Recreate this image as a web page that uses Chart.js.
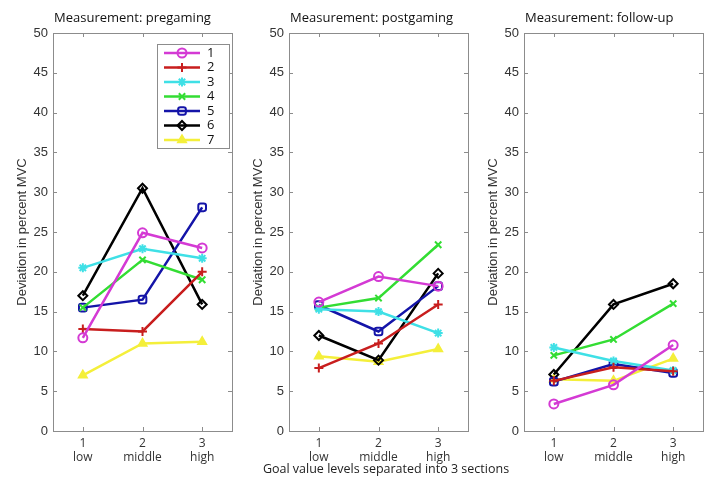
<!DOCTYPE html>
<html>
<head>
<meta charset="utf-8">
<script src="https://cdn.jsdelivr.net/npm/chart.js@4/dist/chart.umd.min.js"></script>
<style>
  html, body { margin: 0; padding: 0; background: #fff; }
  #wrap { position: relative; width: 711px; height: 479px; overflow: hidden; }
  .pane { position: absolute; top: 0; width: 240px; height: 479px; }
  #xtitle { position: absolute; left: 0; width: 772px; top: 460px; text-align: center; line-height: 17px;
            font: 12.5px "Open Sans", "Liberation Sans", sans-serif; color: #222; }
</style>
</head>
<body>
<div id="wrap">
  <div class="pane" style="left:0px"><canvas id="c1" width="240" height="479"></canvas></div>
  <div class="pane" style="left:236px"><canvas id="c2" width="240" height="479"></canvas></div>
  <div class="pane" style="left:471px"><canvas id="c3" width="240" height="479"></canvas></div>
  <div id="xtitle">Goal value levels separated into 3 sections</div>
</div>
<script>
// ---- data ----
const categories = [['1', 'low'], ['2', 'middle'], ['3', 'high']];
const seriesLabels = ['1', '2', '3', '4', '5', '6', '7'];
const panelTitles = ['Measurement: pregaming', 'Measurement: postgaming', 'Measurement: follow-up'];
const yTickValues = [0, 5, 10, 15, 20, 25, 30, 35, 40, 45, 50];
// values per series (1..7), each [low, middle, high]
const pregaming = [
  [11.7, 24.9, 23.0],
  [12.8, 12.5, 20.0],
  [20.5, 22.9, 21.7],
  [15.5, 21.5, 19.0],
  [15.5, 16.5, 28.1],
  [17.0, 30.5, 15.9],
  [7.0, 11.0, 11.2]
];
const postgaming = [
  [16.2, 19.4, 18.2],
  [7.9, 11.0, 15.9],
  [15.3, 15.0, 12.3],
  [15.5, 16.7, 23.4],
  [15.8, 12.5, 18.2],
  [12.0, 8.9, 19.8],
  [9.4, 8.7, 10.3]
];
const followup = [
  [3.4, 5.8, 10.8],
  [6.3, 8.0, 7.5],
  [10.5, 8.8, 7.6],
  [9.5, 11.5, 16.0],
  [6.2, 8.4, 7.3],
  [7.1, 15.9, 18.5],
  [6.5, 6.3, 9.1]
];

// ---- styles ----
const seriesColors = ['#d43ad4', '#c81e1e', '#3fe0e6', '#33dd33', '#1414a8', '#000000', '#f4ef3a'];
const pointStyles = ['circle', 'cross', 'star', 'crossRot', 'rectRounded', 'rectRot', 'triangle'];
const pointFill = [false, false, true, false, false, false, true];

const tickFont = { family: '"Liberation Sans", Arial, sans-serif', size: 13 };
const textColor = '#333';

function makeDatasets(values) {
  return values.map((vals, i) => ({
    label: seriesLabels[i],
    data: vals,
    borderColor: seriesColors[i],
    backgroundColor: pointFill[i] ? seriesColors[i] : 'rgba(0,0,0,0)',
    pointBackgroundColor: pointFill[i] ? seriesColors[i] : 'rgba(0,0,0,0)',
    pointBorderColor: seriesColors[i],
    pointStyle: pointStyles[i],
    pointRadius: 4.5,
    pointBorderWidth: 2,
    borderWidth: 2.5,
    tension: 0
  }));
}

const frame = {
  id: 'frame',
  afterDraw(chart, args, opts) {
    const ctx = chart.ctx, a = chart.chartArea;
    const xs = chart.scales.x, ys = chart.scales.y;
    ctx.save();
    ctx.strokeStyle = '#8c8c8c';
    ctx.lineWidth = 1;
    ctx.strokeRect(Math.round(a.left) + 0.5, Math.round(a.top) + 0.5,
                   Math.round(a.right - a.left), Math.round(a.bottom - a.top));
    ctx.beginPath();
    const tl = 4;
    yTickValues.forEach(v => {
      const y = Math.round(ys.getPixelForValue(v)) + 0.5;
      ctx.moveTo(a.left, y); ctx.lineTo(a.left + tl, y);
      ctx.moveTo(a.right, y); ctx.lineTo(a.right - tl, y);
    });
    for (let i = 0; i < categories.length; i++) {
      const x = Math.round(xs.getPixelForTick(i)) + 0.5;
      ctx.moveTo(x, a.bottom); ctx.lineTo(x, a.bottom - tl);
      ctx.moveTo(x, a.top); ctx.lineTo(x, a.top + tl);
    }
    ctx.stroke();
    // panel title
    ctx.fillStyle = '#111';
    ctx.font = '13px "Open Sans", "Liberation Sans", sans-serif';
    ctx.textAlign = 'left';
    ctx.textBaseline = 'middle';
    ctx.fillText(opts.title, a.left + 1, 18);
    // legend
    if (opts.legend) {
      const bx = a.left + 104, by = 44, bw = 72, bh = 104;
      ctx.fillStyle = '#fff';
      ctx.fillRect(bx, by, bw, bh);
      ctx.strokeStyle = '#8c8c8c';
      ctx.strokeRect(bx + 0.5, by + 0.5, bw, bh);
      chart.data.datasets.forEach((ds, i) => {
        const y = by + 9 + i * 14.5;
        ctx.strokeStyle = ds.borderColor;
        ctx.lineWidth = 2.5;
        ctx.beginPath();
        ctx.moveTo(bx + 7, y); ctx.lineTo(bx + 43, y);
        ctx.stroke();
        ctx.fillStyle = ds.pointBackgroundColor;
        ctx.strokeStyle = ds.borderColor;
        ctx.lineWidth = 2;
        Chart.helpers.drawPoint(ctx, { pointStyle: ds.pointStyle, radius: 4.5, borderWidth: 2, rotation: 0 }, bx + 25, y);
        ctx.fillStyle = '#111';
        ctx.font = '13px "Open Sans", "Liberation Sans", sans-serif';
        ctx.textAlign = 'left';
        ctx.textBaseline = 'middle';
        ctx.fillText(ds.label, bx + 50, y);
      });
    }
    ctx.restore();
  }
};

function makeChart(id, values, title, legend) {
  return new Chart(document.getElementById(id), {
    type: 'line',
    data: { labels: categories, datasets: makeDatasets(values) },
    options: {
      responsive: false,
      animation: false,
      layout: { padding: { top: 33, right: 8, left: 0, bottom: 0 } },
      plugins: {
        legend: { display: false },
        tooltip: { enabled: false },
        frame: { title: title, legend: legend }
      },
      scales: {
        x: {
          type: 'category',
          offset: true,
          grid: { display: false, drawTicks: false },
          border: { display: false },
          ticks: { color: textColor, font: { family: '"Open Sans", "Liberation Sans", sans-serif', size: 12, lineHeight: 1.15 }, padding: 6, maxRotation: 0 },
          afterFit(s) { s.height = 48; }
        },
        y: {
          min: 0, max: 50,
          grid: { display: false, drawTicks: false },
          border: { display: false },
          ticks: { stepSize: 5, color: textColor, font: tickFont, padding: 5 },
          title: { display: true, text: 'Deviation in percent MVC', color: textColor,
                   font: { family: '"Liberation Sans", Arial, sans-serif', size: 13 }, padding: { top: 15, bottom: 0 } },
          afterFit(s) { s.width = 53; }
        }
      }
    },
    plugins: [frame]
  });
}

makeChart('c1', pregaming, panelTitles[0], true);
makeChart('c2', postgaming, panelTitles[1], false);
makeChart('c3', followup, panelTitles[2], false);
</script>
</body>
</html>
